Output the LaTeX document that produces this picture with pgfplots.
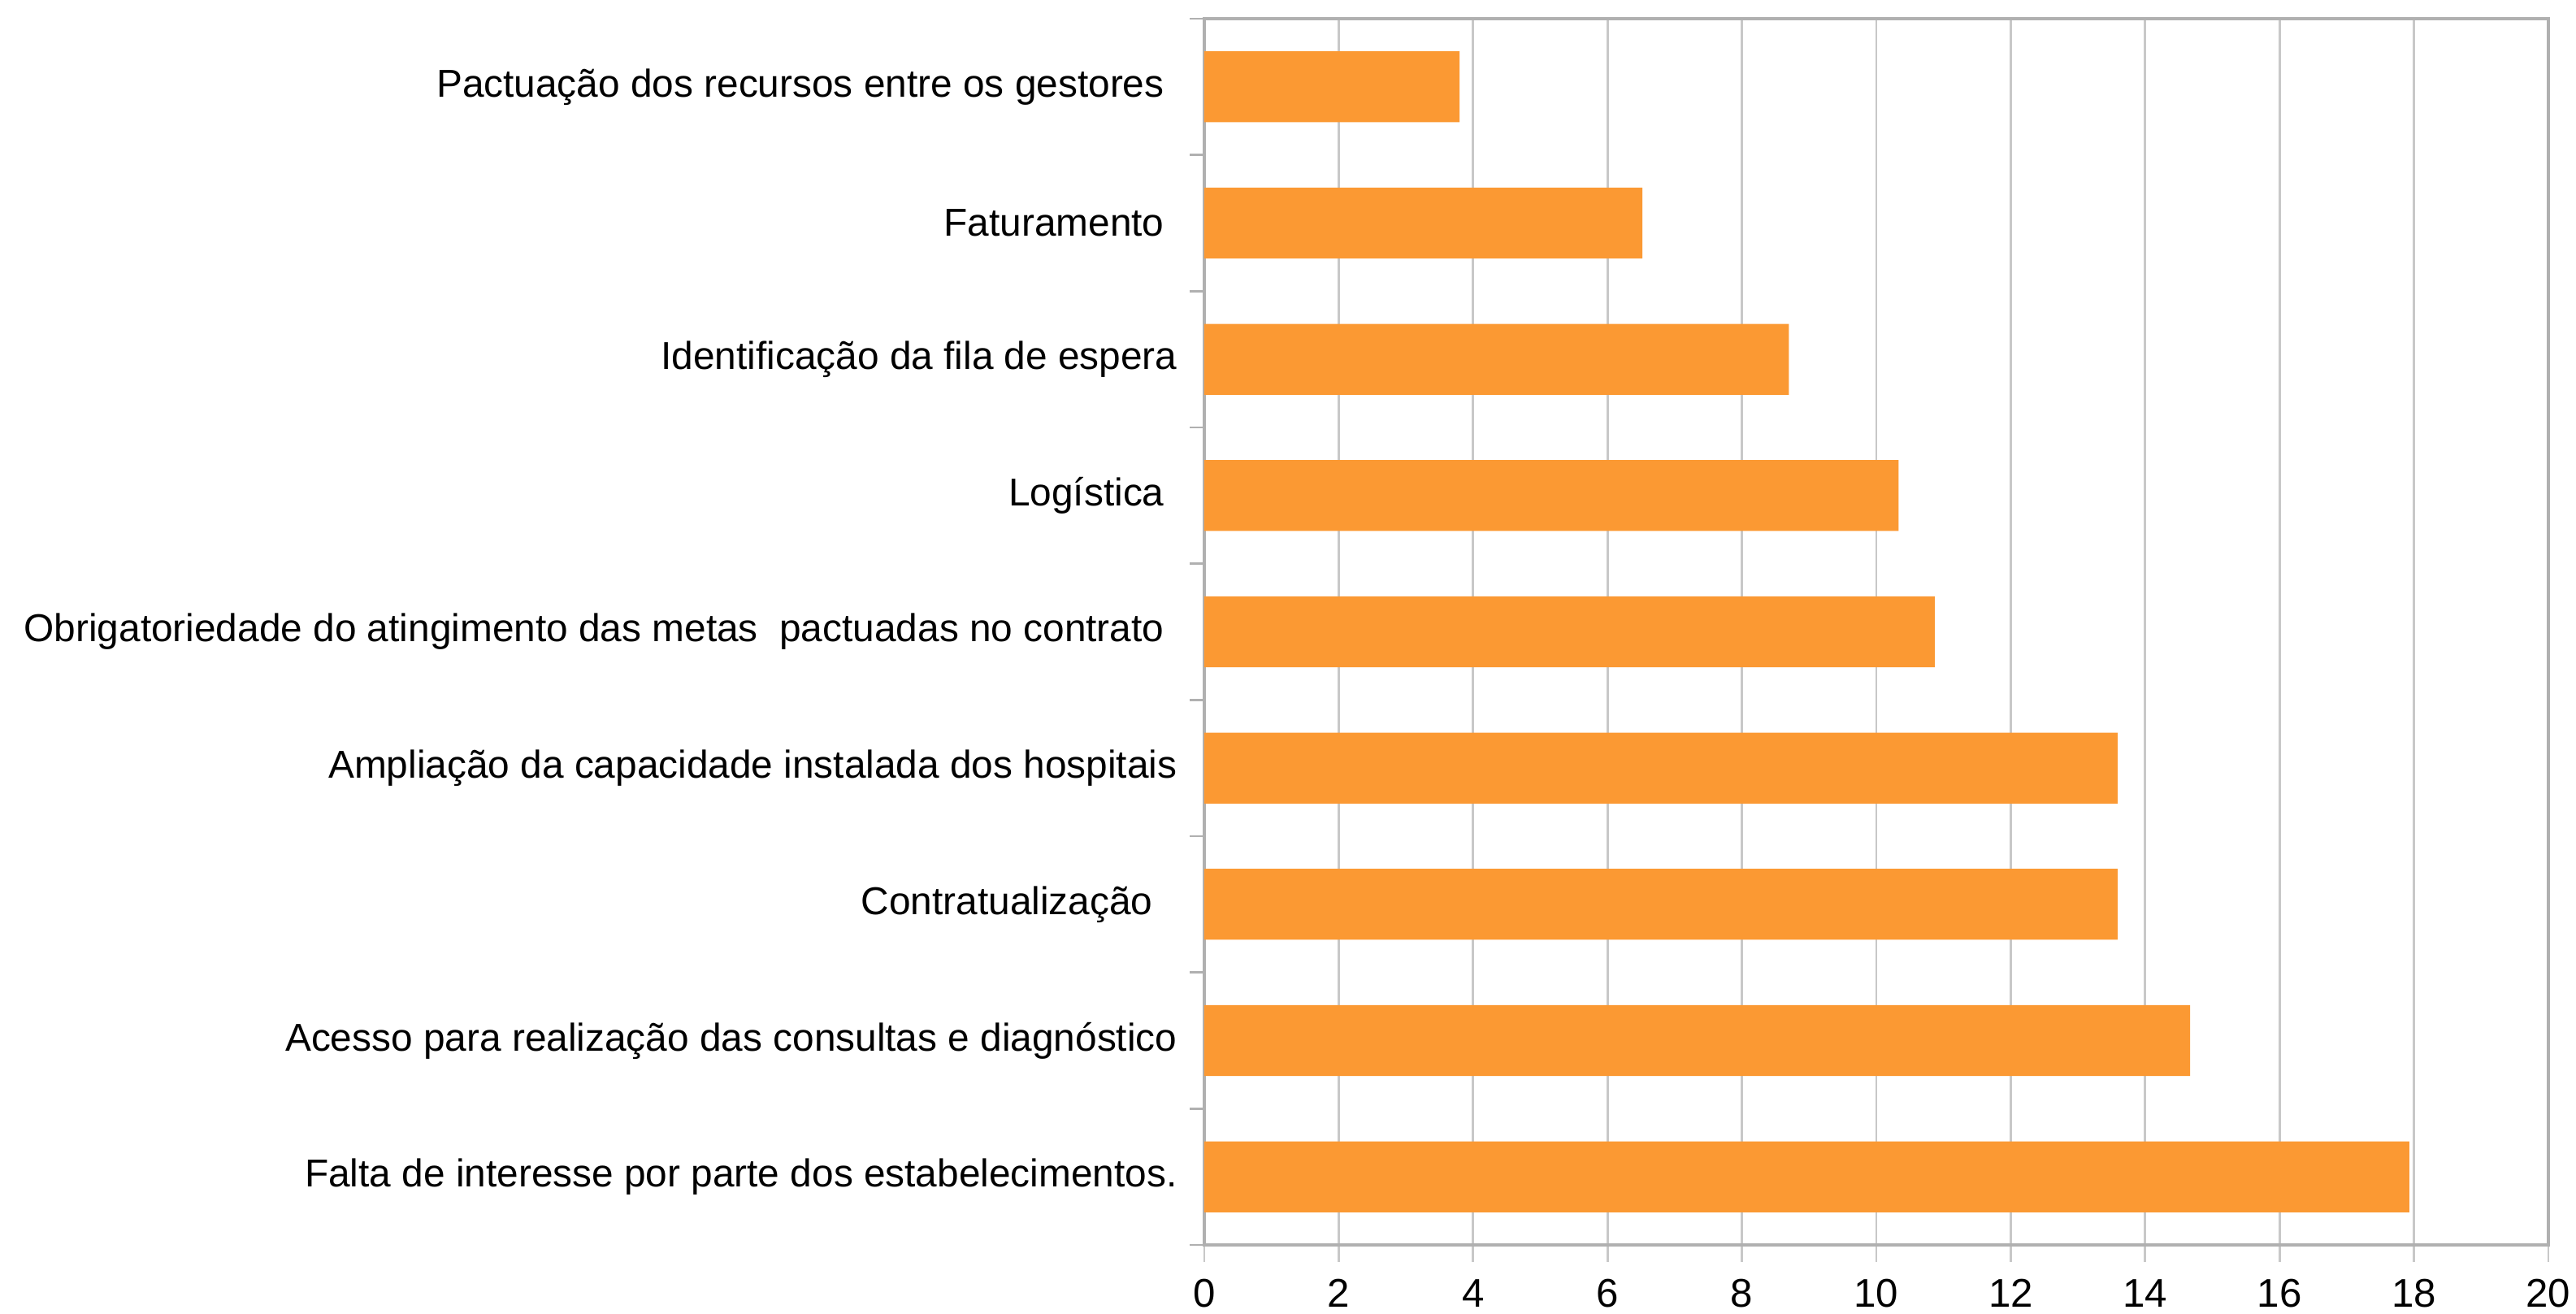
\documentclass[border=0pt]{standalone}
\usepackage{pgfplots}
\pgfplotsset{compat=1.18}
\usepackage{fontspec}
\setmainfont{Liberation Sans}
\definecolor{barorange}{HTML}{FB9933}
\definecolor{gridgray}{HTML}{C8C8C8}
\definecolor{axgray}{HTML}{B0B0B0}
\begin{document}
\begin{tikzpicture}
\useasboundingbox (-14.82,-0.84) rectangle (16.88,15.32);
\begin{axis}[
  at={(0,0)}, anchor=south west,
  scale only axis,
  width=16.54cm, height=15.09cm,
  xmin=0, xmax=20,
  ymin=-0.5, ymax=8.5,
  xtick={0,2,...,20},
  ytick={0,...,8},
  yticklabels={
    {Falta de interesse por parte dos estabelecimentos.},
    {Acesso para realização das consultas e diagnóstico},
    {Contratualização\kern0.3cm},
    {Ampliação da capacidade instalada dos hospitais},
    {Obrigatoriedade do atingimento das metas\ \ pactuadas no contrato\kern0.16cm},
    {Logística\kern0.16cm},
    {Identificação da fila de espera},
    {Faturamento\kern0.16cm},
    {Pactuação dos recursos entre os gestores\kern0.16cm}
  },
  minor ytick={-0.5,0.5,...,8.5},
  major y tick style={draw=none},
  minor y tick style={draw=axgray, line width=0.8pt},
  minor tick length=0.18cm,
  major tick length=0.21cm,
  tick align=outside,
  xtick pos=bottom, ytick pos=left,
  x tick style={draw=gridgray, line width=0.8pt},
  xmajorgrids,
  grid style={gridgray, line width=0.8pt},
  axis line style={axgray, line width=1pt},
  yticklabel style={font=\fontsize{13.6}{16}\selectfont, xshift=0cm},
  xticklabel style={font=\fontsize{14}{16}\selectfont, yshift=-0.09cm},
  /pgf/number format/assume math mode=true,
  xbar,
  bar width=0.52,
]
\addplot[fill=barorange, draw=none] coordinates {
  (17.93,0) (14.67,1) (13.59,2) (13.59,3) (10.87,4) (10.33,5) (8.70,6) (6.52,7) (3.80,8)
};
\end{axis}
\end{tikzpicture}
\end{document}
